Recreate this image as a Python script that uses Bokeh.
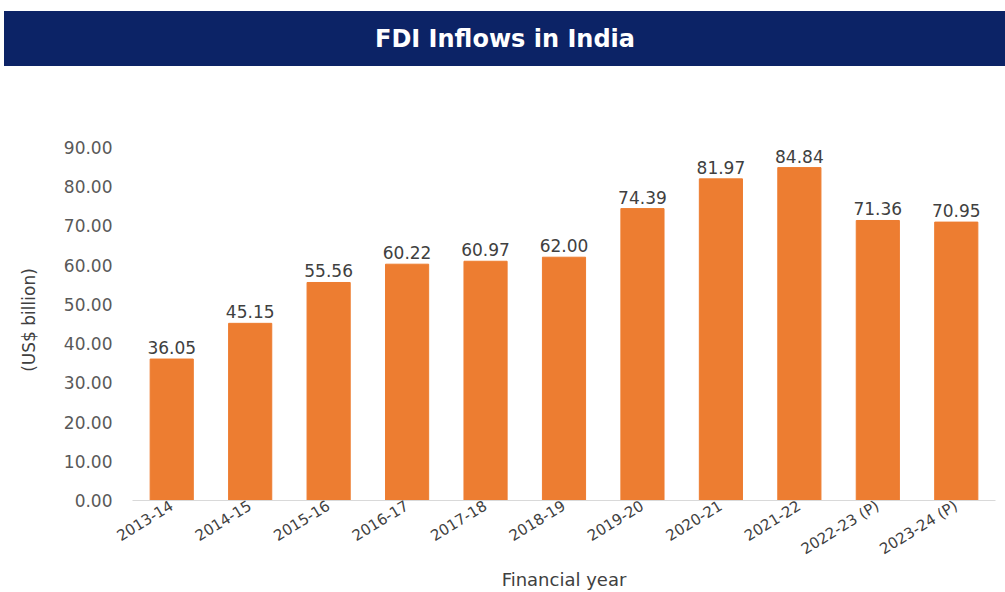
from bokeh.plotting import figure
from bokeh.models import ColumnDataSource, FactorRange, Range1d, FixedTicker, NumeralTickFormatter
from bokeh.layouts import column, row
from bokeh.core.properties import value
from bokeh.embed import file_html
from bokeh.resources import INLINE

years = ["2013-14", "2014-15", "2015-16", "2016-17", "2017-18", "2018-19",
         "2019-20", "2020-21", "2021-22", "2022-23 (P)", "2023-24 (P)"]
fdi = [36.05, 45.15, 55.56, 60.22, 60.97, 62.00, 74.39, 81.97, 84.84, 71.36, 70.95]
y_ticks = [0, 10, 20, 30, 40, 50, 60, 70, 80, 90]

FONT = "DejaVu Sans"
NAVY = "#0c2366"
ORANGE = "#ed7d31"

# Title bar
t = figure(width=1001, height=55, x_range=Range1d(0, 1), y_range=Range1d(0, 1),
           output_backend="svg", toolbar_location=None, min_border=0,
           styles={"background-color": NAVY})
t.axis.visible = False
t.grid.visible = False
t.outline_line_color = NAVY
t.outline_line_width = 3
t.background_fill_color = NAVY
t.border_fill_color = NAVY
t.text(x=[0.5], y=[0.5], text=["FDI Inflows in India"], text_color="white",
       text_font=value(FONT), text_font_style="bold", text_font_size="24px",
       text_align="center", text_baseline="middle")
title_row = row(t, margin=(11, 0, 0, 4))

src = ColumnDataSource(dict(x=years, y=fdi, lab=[f"{v:.2f}" for v in fdi]))

p = figure(width=1005, height=526, x_range=FactorRange(*years), y_range=Range1d(0, 92),
           output_backend="svg", toolbar_location=None, margin=(0, 0, 0, 0),
           min_border_left=132, min_border_right=10, min_border_top=73, min_border_bottom=91)
p.outline_line_color = None
p.grid.visible = False
p.vbar(x="x", top="y", width=0.55, source=src, color=ORANGE)
p.text(x="x", y="y", text="lab", source=src, text_align="center", text_baseline="bottom",
       y_offset=-5, text_font=value(FONT), text_font_size="17px", text_color="#404040")

p.x_range.range_padding = 0
p.yaxis.ticker = FixedTicker(ticks=y_ticks)
p.yaxis.formatter = NumeralTickFormatter(format="0.00")
p.yaxis.axis_line_color = None
p.yaxis.major_tick_line_color = None
p.yaxis.minor_tick_line_color = None
p.yaxis.major_tick_out = 0
p.yaxis.major_label_text_font = FONT
p.yaxis.major_label_text_font_size = "17px"
p.yaxis.major_label_text_color = "#595959"
p.yaxis.major_label_standoff = 20
p.yaxis.axis_label = "(US$ billion)"
p.yaxis.axis_label_text_font = FONT
p.yaxis.axis_label_text_font_style = "normal"
p.yaxis.axis_label_text_font_size = "17px"
p.yaxis.axis_label_text_color = "#404040"
p.yaxis.axis_label_standoff = 22

p.xaxis.axis_line_color = "#d9d9d9"
p.xaxis.major_tick_line_color = None
p.xaxis.minor_tick_line_color = None
p.xaxis.major_tick_out = 0
p.xaxis.major_tick_in = 0
p.xaxis.major_label_orientation = 0.55
p.xaxis.major_label_text_font = FONT
p.xaxis.major_label_text_font_size = "15px"
p.xaxis.major_label_text_color = "#404040"
p.xaxis.major_label_standoff = 4
p.xaxis.axis_label = "Financial year"
p.xaxis.axis_label_text_font = FONT
p.xaxis.axis_label_text_font_style = "normal"
p.xaxis.axis_label_text_font_size = "18px"
p.xaxis.axis_label_text_color = "#404040"
p.xaxis.axis_label_standoff = 0

layout = column(title_row, p, spacing=0)
open("out.html", "w").write(file_html(layout, INLINE))
